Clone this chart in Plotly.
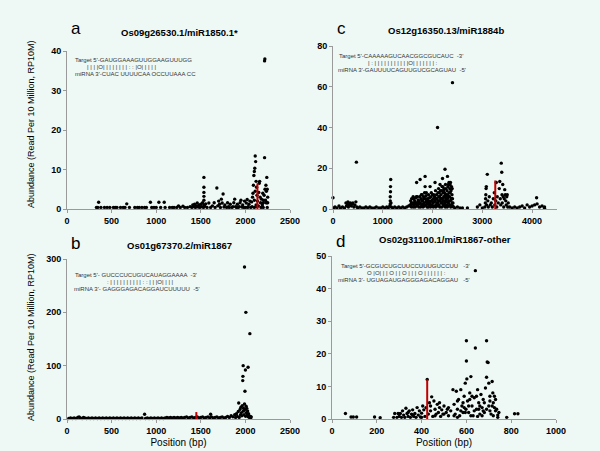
import plotly.graph_objects as go

W, H = 600, 451

# ---------------- data ----------------
a_title = "Os09g26530.1/miR1850.1*"
b_title = "Os01g67370.2/miR1867"
c_title = "Os12g16350.13/miR1884b"
d_title = "Os02g31100.1/miR1867-other"

a_align = ["Target 5'-GAUGGAAAGUUGGAAGUUUGG",
           "| | | |O| | | | | | | | : : |O| | | | |",
           "miRNA 3'-CUAC UUUUCAA OCCUUAAA CC"]
b_align = ["Target 5'- GUCCCUCUGUCAUAGGAAAA  -3'",
           ": | | | | | | | | | | : : | | |O| | | |",
           "miRNA 3'- GAGGGAGACAGGAUCUUUUU  -5'"]
c_align = ["Target 5'-CAAAAAGUCAACGGCGUCAUC  -3'",
           "| : | | | | | | | | | | |O| | | | | | | :",
           "miRNA 3'-GAUUUUCAGUUGUCGCAGUAU  -5'"]
d_align = ["Target 5'-GCGUCUGCUUCCUUUGUCCUU   -3'",
           "O |O| | | O | | O | | | O | | | | | | :",
           "miRNA 3'- UGUAGAUGAGGGAGACAGGAU   -5'"]

a_points = [
    (330,0.4),(345,0.4),(355,1.7),(380,0.4),(420,0.4),(450,0.4),(480,0.4),(520,0.4),(540,0.4),
    (560,0.4),(600,0.4),(630,0.4),(650,0.4),(670,1.3),(700,0.4),(760,0.4),(790,0.4),(810,0.4),
    (840,0.4),(870,0.4),(890,0.4),(935,1.7),(950,0.4),(975,0.4),(1000,0.4),(1030,1.7),(1050,0.4),
    (1090,1.7),(1100,0.4),(1150,0.4),(1180,0.4),(1200,0.4),(1230,0.4),(1250,0.8),(1270,0.4),
    (1300,0.7),(1320,0.4),(1350,0.4),(1380,0.6),
    (1400,0.4),(1410,1.0),(1420,0.6),(1430,1.2),(1440,0.4),(1450,0.8),(1460,1.5),(1470,0.5),
    (1480,1.0),(1490,0.4),(1500,1.2),(1510,0.6),(1520,1.6),(1530,0.4),(1535,1.0),(1535,2.2),
    (1535,3.2),(1535,4.2),(1535,5.5),(1535,8.0),(1545,0.7),(1555,1.3),(1570,0.4),(1590,1.5),
    (1610,0.4),(1630,0.8),(1650,1.6),(1660,0.4),(1680,5.3),(1690,0.8),(1700,2.0),(1710,1.2),
    (1720,0.4),(1730,2.5),(1740,1.5),(1750,3.8),(1760,0.5),(1770,1.0),(1790,0.4),(1800,1.6),
    (1810,0.6),(1830,1.2),(1850,0.4),(1870,1.6),(1880,2.5),(1890,0.6),(1910,1.2),(1920,0.4),
    (1940,1.6),(1950,2.2),(1960,0.5),(1970,1.0),(1990,2.0),(2000,0.4),(2010,1.5),(2020,2.4),
    (2030,0.6),(2040,1.2),(2050,2.0),(2060,0.4),(2070,1.8),(2080,3.0),(2085,4.0),(2090,6.0),
    (2095,8.5),(2100,9.5),(2100,2.2),(2105,10.3),(2110,13.4),(2110,4.5),(2115,12.0),(2120,7.0),
    (2120,1.0),(2125,5.5),(2130,3.5),(2135,2.0),(2145,0.8),(2150,4.2),(2155,6.5),(2160,7.0),
    (2165,3.0),(2170,1.6),(2180,2.5),(2190,1.0),(2195,4.0),(2200,1.6),(2205,2.2),(2210,3.5),
    (2215,13.0),(2215,37.5),(2218,38.0),(2220,5.0),(2225,2.2),(2230,6.0),(2235,4.5),(2240,8.0),
    (2240,1.6),(2245,5.0),(2250,3.0),(2250,1.6),(2245,0.4),
    (1820,0.4),(1860,0.6),(1900,0.4),(1930,0.6),(1980,0.4),(2025,0.4),(2075,0.6),(2100,0.4),
    (2130,0.6),(2175,0.4),(2200,0.4),(2230,1.6),
]
a_site = (2135, 6.5)

b_points = [
    (20,1),(40,2),(60,1),(80,2),(100,1),(120,3),(135,4),(150,2),(170,1),(185,3),(200,2),(220,1),
    (240,2),(260,1),(280,2),(300,1),(320,2),(340,1),(360,2),(380,1),(400,2),(420,1),(440,2),
    (460,1),(480,2),(500,1),(520,2),(540,1),(560,2),(580,1),(600,2),(620,1),(640,2),(660,1),
    (680,2),(700,1),(720,2),(740,1),(760,2),(780,1),(800,2),(820,1),(840,2),(870,9),(880,1),
    (900,2),(920,1),(940,2),(960,1),(980,2),(1000,1),(1020,2),(1040,1),(1060,2),(1080,1),
    (1100,2),(1120,3),(1140,2),(1160,3),(1180,2),(1200,3),(1220,2),(1240,3),(1260,2),(1280,3),
    (1300,2),(1320,3),(1340,4),(1360,2),(1380,3),(1400,4),(1420,2),(1440,3),(1460,4),(1480,2),
    (1500,3),(1520,4),(1540,2),(1560,3),(1580,4),(1600,2),(1610,9),(1620,4),(1640,2),(1660,3),
    (1680,4),(1700,2),(1720,3),(1740,4),(1760,2),(1780,3),(1800,5),(1820,3),(1840,6),(1860,4),
    (1880,8),(1890,3),(1900,10),(1910,5),(1920,14),(1925,30),(1930,3),(1940,18),(1945,8),
    (1950,22),(1955,12),(1960,6),(1965,25),(1970,72),(1972,80),(1975,100),(1978,15),(1980,20),
    (1985,8),(1990,285),(1990,28),(1995,52),(1998,18),(2000,92),(2002,5),(2005,200),(2008,24),
    (2010,12),(2015,20),(2020,8),(2025,15),(2030,97),(2032,4),(2035,10),(2040,6),(2045,3),
    (2050,160),(2055,5),(2060,2),(2065,4),
]
b_site = (1450, 13)

c_points = [
    (0,5.5),(10,0.5),(40,1),(80,0.5),(120,1.5),(150,0.5),(190,1),(230,0.5),(260,3),(270,1.5),
    (290,2.5),(300,3.5),(310,1),(330,2),(350,3),(370,1.5),(390,2.5),(400,3),(420,1),(440,2),
    (460,3.5),(470,23),(480,1),(500,0.5),(540,1),(580,0.5),(620,0.5),(660,1),(700,0.5),(740,1),
    (780,0.5),(830,0.5),(870,1),(920,0.5),(960,0.5),(1000,1),(1040,0.5),(1080,1),(1110,0.5),
    (1140,1.5),(1150,2.5),(1150,4),(1150,6),(1155,8.5),(1155,11),(1160,14.5),(1165,3),(1170,1),
    (1200,0.5),(1240,1),(1280,0.5),(1320,1),(1360,0.5),(1400,1),(1440,0.5),(1480,1),(1520,1.5),
    (1550,2),(1560,4),(1575,1),(1580,5),(1600,3),(1610,6),(1625,2),(1640,4),(1650,1),(1660,5.5),
    (1675,3),(1680,13),(1690,6),(1700,2),(1710,4.5),(1725,1),(1740,6),(1750,14.5),(1755,3),
    (1770,5),(1780,2),(1790,7),(1800,4),(1810,1),(1820,6),(1830,3),(1840,8),(1850,16),(1850,11),
    (1855,5),(1860,2),(1870,6.5),(1880,4),(1890,1),(1900,5),(1910,3),(1920,7),(1930,2),
    (1940,5.5),(1950,11),(1955,3.5),(1960,1),(1970,6),(1980,4),(1990,2),(2000,7),(2010,3),
    (2020,5),(2030,1.5),(2040,6),(2050,13),(2055,4),(2060,9),(2070,2),(2080,7),(2090,5),
    (2100,40),(2100,3),(2110,8),(2120,10),(2130,2),(2140,6),(2150,12),(2155,4),(2160,9),
    (2170,7),(2180,3),(2190,11),(2200,15),(2200,5),(2210,8),(2220,2),(2230,10),(2240,6),
    (2250,19.5),(2250,4),(2260,12),(2270,7),(2280,2),(2290,9),(2300,16),(2300,5),(2310,11),
    (2320,3),(2330,8),(2340,6),(2350,12),(2360,4),(2370,9),(2380,2),(2390,7),(2400,62),
    (2400,5),(2410,3),(2420,1),
    (1575,3),(1625,5),(1675,6),(1725,4),(1775,7),(1825,5),(1875,8),(1925,4),(1975,8),(2025,7),
    (2075,5),(2125,6),(2175,5),(2225,6),(2275,4),(2325,6),(2375,5),(2120,4),(2170,3),(2220,9),
    (2270,10),(2320,12),(2360,13),(2380,11),(2330,13),
    (1565,1.5),(1590,2.5),(1615,1),(1635,3),(1655,2.5),(1685,1.5),(1705,3.5),(1730,2.5),
    (1760,1),(1785,4),(1805,2.5),(1835,1.5),(1865,3.5),(1895,2.5),(1915,1),(1945,3),(1965,2),
    (1995,4.5),(2015,1),(2035,3.5),(2065,1),(2085,3),(2105,1.5),(2135,4),(2145,1),(2165,5),
    (2185,1),(2195,3),(2215,4),(2235,1.5),(2245,3),(2255,1),(2265,5),(2285,3.5),(2295,1),
    (2305,7),(2315,1.5),(2335,4),(2345,2),(2355,8),(2365,1),(2385,5),(2395,3),(2405,1.5),
    (2135,8),(2185,9),(2235,8),(2285,6),(2345,10),(2395,10),(2205,11),(2255,7.5),
    (2450,0.5),(2500,1),(2550,0.5),(2600,0.5),(2700,0.5),(2900,1),(2950,2),(3000,0.5),(3050,1),
    (3060,3),(3065,5),(3070,7),(3075,10),(3080,11),(3085,2),(3100,17),(3110,4),(3120,1),
    (3140,6),(3160,2),(3180,3),(3200,1),(3220,5),(3240,8),(3250,2),(3270,4),(3280,13),(3290,1),
    (3300,6),(3320,3),(3340,10),(3350,13.5),(3360,5),(3370,2),(3380,22.5),(3390,18),(3395,7),
    (3400,3),(3410,12),(3420,6),(3430,1),(3440,5),(3450,9.5),(3460,7),(3470,4),(3480,2),
    (3490,6),(3500,7),(3510,1),(3520,3),(3550,1),(3600,0.5),(3650,1),(3700,0.5),(3750,1),
    (3800,1.5),(3850,0.5),(3900,2),(3950,1),(4000,1.5),(4050,2),(4090,5.5),(4100,2.5),
    (4150,1),(4200,1.5),(4250,1),(4250,0.3),
]
c_site = (3260, 14)

d_points = [
    (60,1.7),(85,0.6),(95,0.6),(110,0.6),(190,0.6),(215,0.4),
    (275,0.5),(280,1.7),(290,0.5),(295,1.7),(300,0.8),(305,1.7),(310,0.5),(315,2.5),(320,1.2),
    (325,0.5),(330,3.3),(335,1.7),(340,0.8),(345,2.5),(350,0.5),(355,1.5),(360,2.8),(365,0.8),
    (370,1.7),(375,0.5),(380,3.5),(385,1.2),(390,2.5),(395,0.6),(400,1.8),(405,4),(410,2.8),
    (415,0.8),(420,3.5),(425,12.1),(430,1.5),(435,5),(440,2.5),(445,6.8),(450,0.8),(455,5.5),
    (460,3),(465,1.5),(470,4.5),(475,2),(480,3.5),(485,0.8),(490,2.8),(495,1.5),(500,4),
    (510,2),(515,3),(520,1),(530,2.5),(540,9),(545,4.5),(550,1.5),(555,8.5),(560,3),(565,6),
    (570,1),(575,9),(580,4),(585,2),(590,7),(595,11),(598,3),(600,24),(600,17.8),(602,12.3),
    (605,5.5),(610,2),(615,8),(620,13),(625,4),(630,1),(635,6.5),(640,45.5),(640,21.8),
    (645,3),(650,9),(655,5),(660,1.5),(665,7.5),(670,3.5),(675,6),(680,2),(685,9.5),(690,24),
    (690,12.8),(693,17.5),(697,17.3),(700,11),(700,4),(705,7),(710,1.5),(715,11.5),(718,8),
    (720,5),(725,7),(730,2.5),(735,3),(740,1.2),(745,2),(780,0.5),(815,1.6),(830,1.6),
    (545,1),(560,0.5),(575,2.5),(585,5),(595,2),(610,4),(620,1),(625,7),(635,2.5),(650,0.8),
    (655,3),(670,1),(680,5),(690,3),(705,2.5),(715,4),(720,1),(730,6),(740,0.5),(560,5.5),
    (590,3.5),(615,6),(645,7),(660,4),(675,2.5),(705,5.5),(725,3.5),(300,1.5),(340,2),
    (360,1.2),(400,0.5),(440,4),(460,1),(480,5),(500,1.5),(520,3.5),
]
d_site = (425, 12.1)

a_xrange, a_yrange, a_xtick, a_ytick = [0, 2500], [0, 40], 500, 10
b_xrange, b_yrange, b_xtick, b_ytick = [0, 2500], [0, 300], 500, 100
c_xrange, c_yrange, c_xtick, c_ytick = [0, 4500], [0, 80], 1000, 20
d_xrange, d_yrange, d_xtick, d_ytick = [0, 1000], [0, 50], 200, 10

ytitle = "Abundance (Read Per 10 Million, RP10M)"
xtitle = "Position (bp)"

# ---------------- layout helpers ----------------
BG = "#EEF9F5"
FONT = "Arial"

def px_x(p):
    return p / W

def px_y(p):
    return 1 - p / H

panels = [
    ("a", a_points, a_site, a_xrange, a_yrange, a_xtick, a_ytick, (67, 290), (51, 209), a_title, a_align),
    ("b", b_points, b_site, b_xrange, b_yrange, b_xtick, b_ytick, (67, 290), (259, 419), b_title, b_align),
    ("c", c_points, c_site, c_xrange, c_yrange, c_xtick, c_ytick, (333, 557), (46, 209), c_title, c_align),
    ("d", d_points, d_site, d_xrange, d_yrange, d_xtick, d_ytick, (332, 556), (256, 419), d_title, d_align),
]

fig = go.Figure()
annotations = []

for i, (letter, pts, site, xr, yr, xt, yt, xd, yd, title, align) in enumerate(panels):
    n = "" if i == 0 else str(i + 1)
    xs = [p[0] for p in pts]
    ys = [p[1] for p in pts]
    fig.add_trace(go.Scatter(
        x=xs, y=ys, mode="markers", xaxis="x" + n, yaxis="y" + n,
        marker=dict(color="black", size=3.4, symbol="circle"),
        showlegend=False, hoverinfo="skip", cliponaxis=False))
    fig.add_trace(go.Scatter(
        x=[site[0], site[0]], y=[0, site[1]], mode="lines", xaxis="x" + n, yaxis="y" + n,
        line=dict(color="#C00000", width=2), showlegend=False, hoverinfo="skip"))

    bottom = letter in ("b", "d")
    fig.layout["xaxis" + n] = dict(
        domain=[px_x(xd[0]), px_x(xd[1])], range=xr, dtick=xt, tick0=0,
        anchor="y" + n, showgrid=False, zeroline=False, showline=True, automargin=False,
        linecolor="#9A9A9A", linewidth=1, ticks="outside", ticklen=3, tickcolor="#9A9A9A",
        tickprefix="<b>", ticksuffix="</b>",
        tickfont=dict(family=FONT, size=9, color="black"),
        title=dict(text=xtitle if bottom else "", font=dict(family=FONT, size=10, color="black"),
                   standoff=4),
        fixedrange=True)
    fig.layout["yaxis" + n] = dict(
        domain=[px_y(yd[1]), px_y(yd[0])], range=yr, dtick=yt, tick0=0,
        anchor="x" + n, showgrid=False, zeroline=False, showline=True, automargin=False,
        linecolor="#9A9A9A", linewidth=1, ticks="outside", ticklen=3, tickcolor="#9A9A9A",
        tickprefix="<b>", ticksuffix="</b>",
        tickfont=dict(family=FONT, size=9, color="black"),
        fixedrange=True)

    # panel letter
    ly = {"a": 28, "b": 243, "c": 28, "d": 241}[letter]
    annotations.append(dict(text=letter, x=px_x(xd[0] + 2), y=px_y(ly),
                            xref="paper", yref="paper", xanchor="left", yanchor="middle",
                            showarrow=False, font=dict(family=FONT, size=17, color="black")))
    # panel title
    tx = (xd[0] + xd[1]) / 2 + 1
    ty = {"a": 33, "b": 245, "c": 30, "d": 240}[letter]
    annotations.append(dict(text="<b>" + title + "</b>", x=px_x(tx), y=px_y(ty),
                            xref="paper", yref="paper", xanchor="center", yanchor="middle",
                            showarrow=False, font=dict(family=FONT, size=9.5, color="black")))
    # alignment text
    ax0 = {"a": 73, "b": 72, "c": 336, "d": 336}[letter]
    ay0 = {"a": 60, "b": 275, "c": 56, "d": 266}[letter]
    offs = {"a": [0, 12, 0], "b": [1, 33, 0], "c": [1, 30, 0], "d": [3, 29, 0]}[letter]
    for k, line in enumerate(align):
        annotations.append(dict(text=line, x=px_x(ax0 + offs[k]), y=px_y(ay0 + 7 * k),
                                xref="paper", yref="paper", xanchor="left", yanchor="middle",
                                showarrow=False, font=dict(family=FONT, size=6, color="#333333")))

# y axis titles (left column)
for cy in (124, 337):
    annotations.append(dict(text=ytitle, x=px_x(31), y=px_y(cy), xref="paper", yref="paper",
                            xanchor="center", yanchor="middle", textangle=-90, showarrow=False,
                            font=dict(family=FONT, size=9, color="black")))

fig.update_layout(
    width=W, height=H, margin=dict(l=0, r=0, t=0, b=0),
    paper_bgcolor=BG, plot_bgcolor=BG,
    annotations=annotations, showlegend=False,
)

fig.write_html("out.html", config={"displayModeBar": False},
               post_script="document.body.style.margin='0px';document.body.style.padding='0px';"
                           "document.body.style.overflow='hidden';"
                           "document.body.style.background='" + BG + "';")
